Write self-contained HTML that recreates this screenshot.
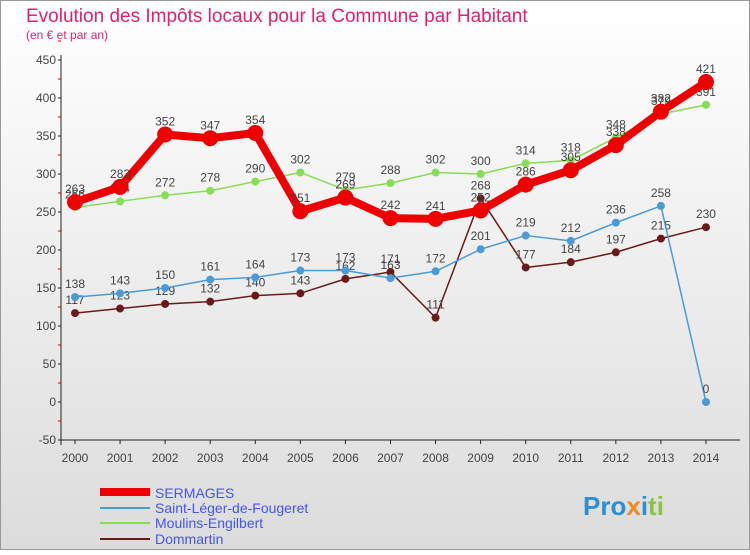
<!DOCTYPE html>
<html><head><meta charset="utf-8"><style>
body{margin:0;width:750px;height:550px;overflow:hidden;font-family:"Liberation Sans",sans-serif}
</style></head><body>
<svg width="750" height="550">
<defs><linearGradient id="bg" x1="0" y1="0" x2="0" y2="1"><stop offset="0" stop-color="#ffffff"/><stop offset="1" stop-color="#dcdcdc"/></linearGradient></defs>
<rect x="0.5" y="0.5" width="749" height="549" fill="url(#bg)" stroke="#999"/>
<text x="26" y="22" font-size="19" fill="#e0226a">Evolution des Impôts locaux pour la Commune par Habitant</text>
<text x="26" y="39" font-size="12" fill="#e0226a">(en € et par an)</text>
<g id="axes"></g><g id="series"></g>
<g>
<line x1="100" y1="492" x2="150" y2="492" stroke="#ee0000" stroke-width="8"/><text x="155" y="498" font-size="14" fill="#4455ee">SERMAGES</text>
<line x1="100" y1="508" x2="150" y2="508" stroke="#4a9bd6" stroke-width="2"/><text x="155" y="513" font-size="14" fill="#4455ee">Saint-Léger-de-Fougeret</text>
<line x1="100" y1="523" x2="150" y2="523" stroke="#88dd55" stroke-width="2"/><text x="155" y="528" font-size="14" fill="#4455ee">Moulins-Engilbert</text>
<line x1="100" y1="539" x2="150" y2="539" stroke="#6b1a1a" stroke-width="2"/><text x="155" y="544" font-size="14" fill="#4455ee">Dommartin</text>
</g>
<text x="583" y="515" font-size="26" font-weight="bold"><tspan fill="#2a8fd8">Pro</tspan><tspan fill="#f08a1c">x</tspan><tspan fill="#2a8fd8">i</tspan><tspan fill="#8ac43f">ti</tspan></text>
</svg>
<script>
const years=[2000,2001,2002,2003,2004,2005,2006,2007,2008,2009,2010,2011,2012,2013,2014];
const yTicks=[-50,0,50,100,150,200,250,300,350,400,450];
const sermages=[263,283,352,347,354,251,269,242,241,252,286,305,338,382,421];
const saintLeger=[138,143,150,161,164,173,173,163,172,201,219,212,236,258,0];
const moulins=[256,264,272,278,290,302,279,288,302,300,314,318,348,379,391];
const dommartin=[117,123,129,132,140,143,162,171,111,268,177,184,197,215,230];
const NS="http://www.w3.org/2000/svg";
const X=i=>75+i*45.07, Y=v=>402-v*0.76;
function mk(t,a,p){const e=document.createElementNS(NS,t);for(const k in a)e.setAttribute(k,a[k]);p.appendChild(e);return e;}
const ax=document.getElementById('axes'), sg=document.getElementById('series');
const axl=mk('line',{x1:61,y1:55,x2:61,y2:445,stroke:'#222'},ax);


const xl=mk('line',{x1:61,y1:440,x2:740,y2:440,stroke:'#222'},ax);


yTicks.forEach(v=>{const t=mk('text',{x:56,y:Y(v)+4,'font-size':12,fill:'#444','text-anchor':'end'},ax);t.textContent=v;


mk('line',{x1:58,y1:Y(v),x2:61,y2:Y(v),stroke:'#222'},ax);
mk('line',{x1:58,y1:Y(v+25),x2:61,y2:Y(v+25),stroke:'#d00'},ax);});
years.forEach((y,i)=>{const t=mk('text',{x:X(i),y:462,'font-size':12,fill:'#444','text-anchor':'middle'},ax);t.textContent=y;


mk('line',{x1:X(i),y1:440,x2:X(i),y2:444,stroke:'#222'},ax);});
function draw(d,col,w,r,name){const g=mk('g',{},sg);


mk('polyline',{points:d.map((v,i)=>X(i)+','+Y(v)).join(' '),fill:'none',stroke:col,'stroke-width':w,'stroke-linejoin':'round'},g);
d.forEach((v,i)=>{const c=mk('circle',{cx:X(i),cy:Y(v),r:r,fill:col},g);


const t=mk('text',{x:X(i),y:Y(v)-9,'font-size':12,fill:'#444','text-anchor':'middle'},g);t.textContent=v;

});}
draw(dommartin,'#6b1a1a',1.5,4,'series-dommartin');
draw(saintLeger,'#4a9bd6',1.5,4,'series-saint-leger');
draw(moulins,'#88dd55',1.5,4,'series-moulins');
draw(sermages,'#ee0000',8,8,'series-sermages');
</script>
</body></html>
